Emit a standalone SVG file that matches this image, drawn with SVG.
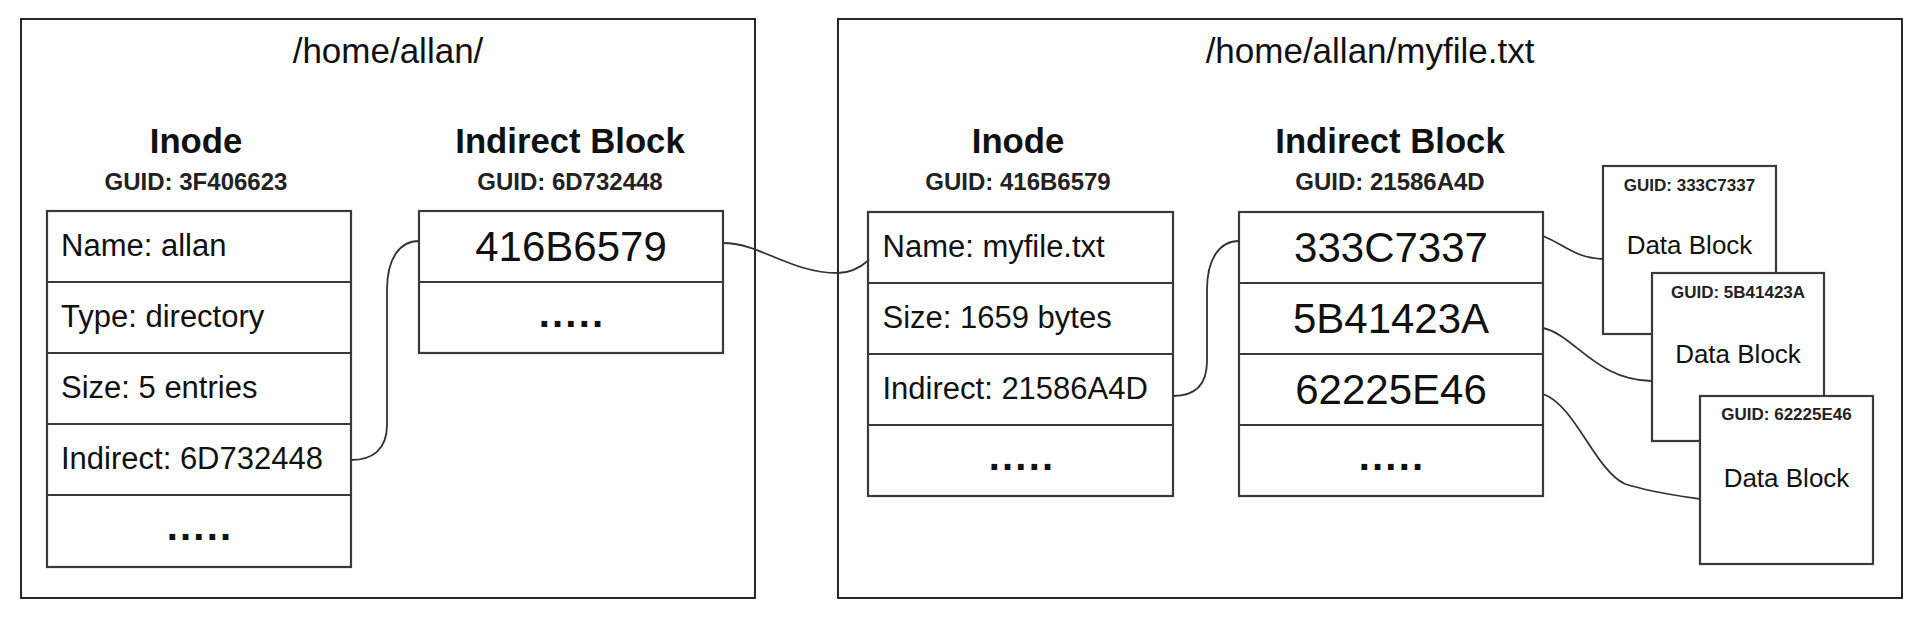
<svg xmlns="http://www.w3.org/2000/svg" width="1920" height="626" viewBox="0 0 1920 626">
<style>
.bg{fill:#ffffff}
.frame{fill:none;stroke:#111;stroke-width:1.8}
.cell{fill:#ffffff;stroke:#3a3a3a;stroke-width:2.2}
.sep{stroke:#3a3a3a;stroke-width:2.2}
.title{font-family:"Liberation Sans",Arial,sans-serif;font-size:35px;fill:#111;text-anchor:middle}
.head{font-family:"Liberation Sans",Arial,sans-serif;font-size:34.7px;font-weight:bold;fill:#111;text-anchor:middle}
.guid{font-family:"Liberation Sans",Arial,sans-serif;font-size:24px;font-weight:bold;fill:#222;text-anchor:middle}
.row{font-family:"Liberation Sans",Arial,sans-serif;font-size:31px;fill:#111}
.num{font-family:"Liberation Sans",Arial,sans-serif;font-size:42px;fill:#111;text-anchor:middle}
.dots{font-family:"Liberation Sans",Arial,sans-serif;font-size:40px;font-weight:bold;fill:#111;text-anchor:middle;letter-spacing:2.2px}
.sguid{font-family:"Liberation Sans",Arial,sans-serif;font-size:17px;font-weight:bold;fill:#222;text-anchor:middle}
.db{font-family:"Liberation Sans",Arial,sans-serif;font-size:26px;fill:#111;text-anchor:middle}
.conn{fill:none;stroke:#333;stroke-width:1.8}
</style>
<rect class="bg" x="0" y="0" width="1920" height="626"/>

<g id="dir-frame">
<rect class="frame" x="21" y="19" width="734" height="579"/>
<text class="title" x="388" y="63">/home/allan/</text>
</g>

<g id="file-frame">
<rect class="frame" x="838" y="19" width="1064" height="579"/>
<text class="title" x="1370" y="63">/home/allan/myfile.txt</text>
</g>

<g id="dir-inode">
<text class="head" x="196" y="152.5">Inode</text>
<text class="guid" x="196" y="190">GUID: 3F406623</text>
<rect class="cell" x="47" y="211" width="304" height="356"/>
<line class="sep" x1="47" y1="282" x2="351" y2="282"/>
<line class="sep" x1="47" y1="353" x2="351" y2="353"/>
<line class="sep" x1="47" y1="424" x2="351" y2="424"/>
<line class="sep" x1="47" y1="495" x2="351" y2="495"/>
<text class="row" x="61" y="256">Name: allan</text>
<text class="row" x="61" y="327">Type: directory</text>
<text class="row" x="61" y="398">Size: 5 entries</text>
<text class="row" x="61" y="469">Indirect: 6D732448</text>
<text class="dots" x="200" y="540">.....</text>
</g>

<g id="dir-indirect">
<text class="head" x="570" y="152.5">Indirect Block</text>
<text class="guid" x="570" y="190">GUID: 6D732448</text>
<rect class="cell" x="419" y="211" width="304" height="142"/>
<line class="sep" x1="419" y1="282" x2="723" y2="282"/>
<text class="num" x="571" y="260.5">416B6579</text>
<text class="dots" x="572" y="327">.....</text>
</g>

<g id="file-inode">
<text class="head" x="1018" y="152.5">Inode</text>
<text class="guid" x="1018" y="190">GUID: 416B6579</text>
<rect class="cell" x="868" y="212" width="305" height="284"/>
<line class="sep" x1="868" y1="283" x2="1173" y2="283"/>
<line class="sep" x1="868" y1="354" x2="1173" y2="354"/>
<line class="sep" x1="868" y1="425" x2="1173" y2="425"/>
<text class="row" x="882.5" y="257">Name: myfile.txt</text>
<text class="row" x="882.5" y="328">Size: 1659 bytes</text>
<text class="row" x="882.5" y="399">Indirect: 21586A4D</text>
<text class="dots" x="1022" y="469.5">.....</text>
</g>

<g id="file-indirect">
<text class="head" x="1390" y="152.5">Indirect Block</text>
<text class="guid" x="1390" y="190">GUID: 21586A4D</text>
<rect class="cell" x="1239" y="212" width="304" height="284"/>
<line class="sep" x1="1239" y1="283" x2="1543" y2="283"/>
<line class="sep" x1="1239" y1="354" x2="1543" y2="354"/>
<line class="sep" x1="1239" y1="425" x2="1543" y2="425"/>
<text class="num" x="1391" y="261.5">333C7337</text>
<text class="num" x="1391" y="332.5">5B41423A</text>
<text class="num" x="1391" y="403.5">62225E46</text>
<text class="dots" x="1392" y="469.5">.....</text>
</g>

<g id="data-block-1">
<rect class="cell" x="1603" y="166" width="173" height="168"/>
<text class="sguid" x="1689.5" y="190.5">GUID: 333C7337</text>
<text class="db" x="1689.5" y="254">Data Block</text>
</g>

<g id="data-block-2">
<rect class="cell" x="1652" y="273" width="172" height="168"/>
<text class="sguid" x="1738" y="297.5">GUID: 5B41423A</text>
<text class="db" x="1738" y="363">Data Block</text>
</g>

<g id="data-block-3">
<rect class="cell" x="1700" y="396" width="173" height="168"/>
<text class="sguid" x="1786.5" y="420">GUID: 62225E46</text>
<text class="db" x="1786.5" y="486.5">Data Block</text>
</g>

<g id="connectors">
<path class="conn" d="M351,460 C372,460 387,450 387,425 L387,290 C387,258 400,241 419,241"/>
<path class="conn" d="M723,243 C760,243 790,273 838,273 C852,273 862,266 869,260"/>
<path class="conn" d="M1173,396 C1194,396 1207,386 1207,361 L1207,290 C1207,258 1220,241 1239,241"/>
<path class="conn" d="M1543,236 C1565,245 1575,258 1603,259"/>
<path class="conn" d="M1543,328 C1575,335 1595,380 1652,381"/>
<path class="conn" d="M1543,394 C1575,405 1595,470 1625,484 C1650,492 1680,496 1700,499"/>
</g>
</svg>
